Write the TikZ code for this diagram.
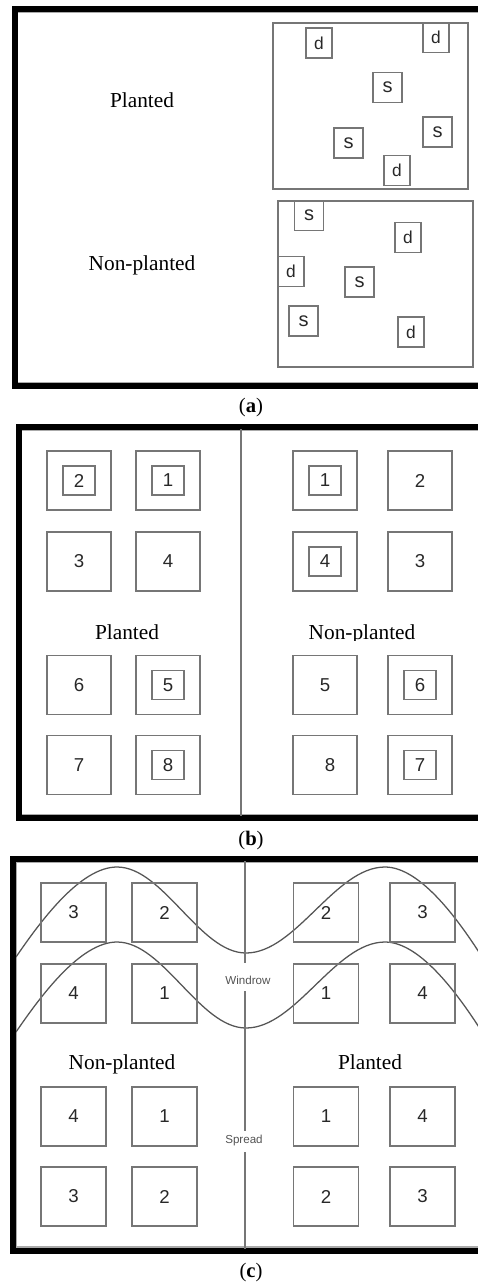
\documentclass[tikz,border=0pt]{standalone}
\usepackage{fontspec}
\setmainfont{Liberation Serif}
\setsansfont{Liberation Sans}
\newlength\pxu
\setlength\pxu{0.75pt}
\definecolor{boxgray}{RGB}{118,118,118}
\definecolor{numgray}{RGB}{40,40,40}
\definecolor{wavegray}{RGB}{85,85,85}
\definecolor{rimgray}{RGB}{170,170,170}

\begin{document}
\begin{tikzpicture}[x=0.75pt, y=-0.75pt,
  frame/.style={line width=4.5pt, line join=miter, black},
  rim/.style={line width=0.8pt, rimgray},
  field/.style={draw=boxgray, line width=1.1pt},
  tag/.style={draw=boxgray, line width=1.1pt, inner sep=0pt, outer sep=0pt,
    minimum height=30\pxu, text=numgray},
  dtag/.style={tag, minimum width=26\pxu, font=\sffamily\fontsize{13}{13}\selectfont},
  stag/.style={tag, minimum width=29\pxu, font=\sffamily\fontsize{15}{15}\selectfont},
  plotb/.style={draw=boxgray, line width=1.1pt, inner sep=0pt, outer sep=0pt,
    minimum width=64\pxu, minimum height=59\pxu, text=numgray,
    font=\sffamily\fontsize{14}{14}\selectfont},
  plotc/.style={plotb, minimum width=65\pxu},
  subplot/.style={plotb, minimum width=32\pxu, minimum height=29\pxu},
  treat/.style={anchor=base, font=\fontsize{16}{16}\selectfont},
  caption/.style={font=\fontsize{15.5}{15.5}\selectfont},
  divider/.style={boxgray, line width=1.1pt},
  strip/.style={font=\sffamily\fontsize{8.7}{8.7}\selectfont, text=numgray!80, inner sep=0pt},
  wave/.style={wavegray, line width=0.95pt}]
\useasboundingbox (0,0) rectangle (478,1285);
\clip (0,0) rectangle (478,1285);

% ---------- (a) random sampling spots ----------
\draw[rim] (490,12.5) -- (17.5,12.5) -- (17.5,382.5) -- (490,382.5);
\draw[frame] (490,9) -- (14.5,9) -- (14.5,386) -- (490,386);

\node[treat] (aPlab) at (142,107) {Planted};
\node[treat] (aNlab) at (142,270) {Non-planted};

\draw[field] (273,23) rectangle (468,189);
\draw[field] (278,201) rectangle (473,367);

\node[dtag] (aPd1) at (319,43) {d};
\node[dtag] (aPd2) at (436,37.5) {d};
\node[stag] (aPs1) at (387.5,87.5) {s};
\node[stag] (aPs2) at (348.5,143) {s};
\node[stag] (aPs3) at (437.5,132) {s};
\node[dtag] (aPd3) at (397,170.5) {d};

\node[stag] (aNs1) at (309,215.5) {s};
\node[dtag] (aNd1) at (408,237.5) {d};
\node[dtag] (aNd2) at (291,271.5) {d};
\node[stag] (aNs2) at (359.5,282) {s};
\node[stag] (aNs3) at (303.5,321) {s};
\node[dtag] (aNd3) at (411,332) {d};

\node[caption] (capa) at (251,408) {(\textbf{a})};

% ---------- (b) paired plots with sub-plots ----------
\draw[rim] (490,430.5) -- (21.5,430.5) -- (21.5,814.5) -- (490,814.5);
\draw[frame] (490,427) -- (18.5,427) -- (18.5,818) -- (490,818);
\coordinate (bTop) at (241,429);
\coordinate (bBot) at (241,816);
\draw[divider] (bTop) -- (bBot);

% left half
\node[plotb] (bL11) at (79,480.5) {};
\node[subplot] (bL11s) at (bL11) {2};
\node[plotb] (bL12) at (168,480.5) {};
\node[subplot] (bL12s) at (bL12) {1};
\node[plotb] (bL21) at (79,561.5) {3};
\node[plotb] (bL22) at (168,561.5) {4};
\node[plotb] (bL31) at (79,685) {6};
\node[plotb] (bL32) at (168,685) {};
\node[subplot] (bL32s) at (bL32) {5};
\node[plotb] (bL41) at (79,765) {7};
\node[plotb] (bL42) at (168,765) {};
\node[subplot] (bL42s) at (bL42) {8};

% right half
\node[plotb] (bR11) at (325,480.5) {};
\node[subplot] (bR11s) at (bR11) {1};
\node[plotb] (bR12) at (420,480.5) {2};
\node[plotb] (bR21) at (325,561.5) {};
\node[subplot] (bR21s) at (bR21) {4};
\node[plotb] (bR22) at (420,561.5) {3};
\node[plotb] (bR31) at (325,685) {5};
\node[plotb] (bR32) at (420,685) {};
\node[subplot] (bR32s) at (bR32) {6};
\node[plotb] (bR41) at (325,765) {\hspace*{10\pxu}8};
\node[plotb] (bR42) at (420,765) {};
\node[subplot] (bR42s) at (bR42) {7};

\node[treat] (bPlab) at (127,639) {Planted};
\begin{scope}
  \clip (250,600) rectangle (478,640.5);
  \node[treat] (bNlab) at (362,639) {Non-planted};
\end{scope}

\node[caption] (capb) at (251,841) {(\textbf{b})};

% ---------- (c) windrow and spread strips ----------
\draw[rim] (490,862.5) -- (16.5,862.5) -- (16.5,1247) -- (490,1247);

\foreach \dy in {0,75}{
  \draw[wave] (16,957+\dy) .. controls (40,922+\dy) and (80,867+\dy) .. (117,867+\dy)
    .. controls (163.4,867+\dy) and (199.6,953+\dy) .. (246,953+\dy)
    .. controls (296,953+\dy) and (335,867+\dy) .. (385,867+\dy)
    .. controls (421,867+\dy) and (460,922+\dy) .. (484,960+\dy);
}

\draw[frame] (490,859) -- (13,859) -- (13,1250.5) -- (490,1250.5);

\node[strip] (cWin) at (248,980) {Windrow};
\node[strip] (cSpr) at (244,1140.5) {Spread};
\coordinate (cTop) at (245,861);
\coordinate (cW1) at (245,963);
\coordinate (cW2) at (245,991);
\coordinate (cS1) at (245,1131);
\coordinate (cS2) at (245,1152);
\coordinate (cBot) at (245,1248.5);
\draw[divider] (cTop) -- (cW1);
\draw[divider] (cW2) -- (cS1);
\draw[divider] (cS2) -- (cBot);

% left half
\node[plotc] (cL11) at (73.5,912.5) {3};
\node[plotc] (cL12) at (164.5,912.5) {2};
\node[plotc] (cL21) at (73.5,993.5) {4};
\node[plotc] (cL22) at (164.5,993.5) {1};
\node[plotc] (cL31) at (73.5,1116.5) {4};
\node[plotc] (cL32) at (164.5,1116.5) {1};
\node[plotc] (cL41) at (73.5,1196.5) {3};
\node[plotc] (cL42) at (164.5,1196.5) {2};

% right half
\node[plotc] (cR11) at (326,912.5) {2};
\node[plotc] (cR12) at (422.5,912.5) {3};
\node[plotc] (cR21) at (326,993.5) {1};
\node[plotc] (cR22) at (422.5,993.5) {4};
\node[plotc] (cR31) at (326,1116.5) {1};
\node[plotc] (cR32) at (422.5,1116.5) {4};
\node[plotc] (cR41) at (326,1196.5) {2};
\node[plotc] (cR42) at (422.5,1196.5) {3};

\node[treat] (cNlab) at (122,1069) {Non-planted};
\node[treat] (cPlab) at (370,1069) {Planted};

\node[caption] (capc) at (251,1273) {(\textbf{c})};
\end{tikzpicture}
\end{document}
